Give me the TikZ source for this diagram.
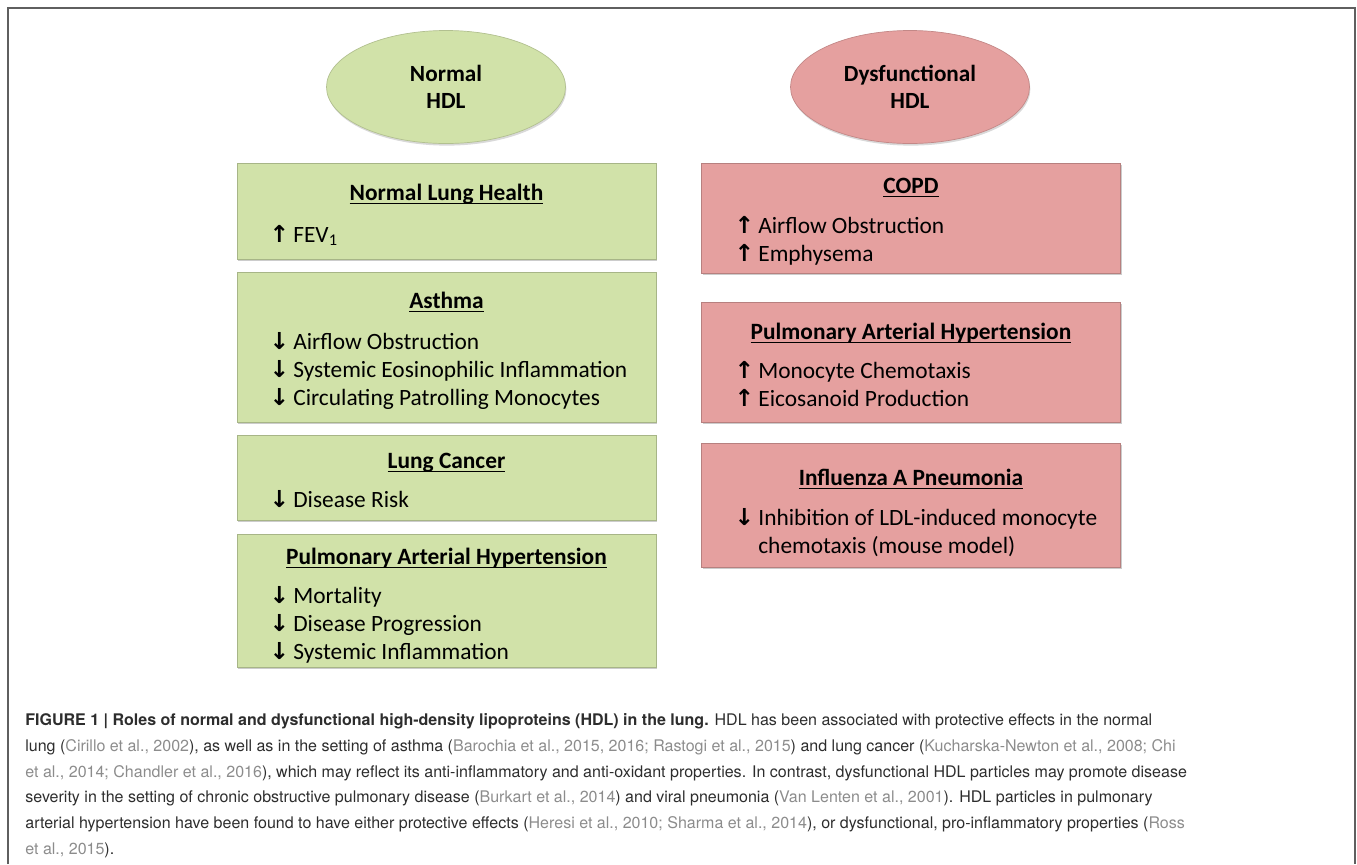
\documentclass[tikz,border=0pt]{standalone}
\usepackage{fontspec}
\setmainfont{Carlito}
\newfontfamily\arrowfont{DejaVu Sans}
\newfontfamily\capfont{TeX Gyre Heros}
\usetikzlibrary{shapes.geometric,shadows}

\definecolor{hdlgreen}{RGB}{209,226,169}
\definecolor{hdlpink}{RGB}{229,160,159}
\definecolor{captext}{RGB}{45,45,45}
\definecolor{citegray}{RGB}{140,140,140}
\definecolor{framegray}{RGB}{95,95,95}

\newcommand{\arup}{\makebox[0.4cm]{\arrowfont\bfseries ↑}\hspace{0.08cm}}
\newcommand{\ardn}{\makebox[0.4cm]{\arrowfont\bfseries ↓}\hspace{0.08cm}}
\newcommand{\ultitle}[1]{\setbox0=\hbox{#1}\rlap{\rule[-2.4pt]{\wd0}{0.75pt}}\box0}
\newcommand{\refc}[1]{\textcolor{citegray}{#1}}

\tikzset{
    hdl/.style={ellipse, minimum width=4.78cm, minimum height=2.26cm, align=center,
        font=\fontsize{13.2}{15.4}\selectfont\bfseries,
        drop shadow={opacity=0.3, shadow xshift=0.5pt, shadow yshift=-1.2pt}},
    panel/.style={rectangle, minimum width=8.38cm, line width=0.3pt,
        drop shadow={opacity=0.4, shadow xshift=0.8pt, shadow yshift=-1.2pt}},
    greenpanel/.style={panel, fill=hdlgreen, draw=hdlgreen!80!black},
    pinkpanel/.style={panel, fill=hdlpink, draw=hdlpink!80!black},
    paneltitle/.style={anchor=base, inner sep=0pt, font=\fontsize{13.3}{16}\selectfont\bfseries},
    % multi-line: base anchor sits on the last line
    effects/.style={anchor=base west, inner sep=0pt, align=left, font=\fontsize{13.3}{15.8}\selectfont},
    capline/.style={anchor=base west, inner sep=0pt, text=captext, font=\capfont\fontsize{9.12}{10}\selectfont}
}

\begin{document}
\begin{tikzpicture}

    \useasboundingbox (0, 0) rectangle (27.14, -17.28);
    \draw[framegray, line width=0.8pt] (0.16, -17.28) -- (0.16, -0.16) -- (27.1, -0.16) -- (27.1, -17.28);

    % normal HDL
    \node[hdl, fill=hdlgreen, draw=hdlgreen!85!black] (normal) at (8.92, -1.74) {Normal\\HDL};

    \node[greenpanel, minimum height=1.92cm] (lunghealth) at (8.93, -4.22) {};
    \node[paneltitle] (lunghealthT) at (8.93, -4.00) {\ultitle{Normal Lung Health}};
    \node[effects] (lunghealthE) at (5.38, -4.84) {\arup FEV\textsubscript{1}};

    \node[greenpanel, minimum height=3.0cm] (asthma) at (8.93, -6.94) {};
    \node[paneltitle] (asthmaT) at (8.93, -6.16) {\ultitle{Asthma}};
    \node[effects] (asthmaE) at (5.38, -8.10) {\ardn Airflow Obstruction\\ \ardn Systemic Eosinophilic Inflammation\\ \ardn Circulating Patrolling Monocytes};

    \node[greenpanel, minimum height=1.70cm] (cancer) at (8.93, -9.55) {};
    \node[paneltitle] (cancerT) at (8.93, -9.36) {\ultitle{Lung Cancer}};
    \node[effects] (cancerE) at (5.38, -10.14) {\ardn Disease Risk};

    \node[greenpanel, minimum height=2.66cm] (pahgood) at (8.93, -12.015) {};
    \node[paneltitle] (pahgoodT) at (8.93, -11.28) {\ultitle{Pulmonary Arterial Hypertension}};
    \node[effects] (pahgoodE) at (5.38, -13.18) {\ardn Mortality\\ \ardn Disease Progression\\ \ardn Systemic Inflammation};

    % dysfunctional HDL
    \node[hdl, fill=hdlpink, draw=hdlpink!85!black] (dysf) at (18.2, -1.74) {Dysfunctional\\HDL};

    \node[pinkpanel, minimum height=2.2cm] (copd) at (18.22, -4.36) {};
    \node[paneltitle] (copdT) at (18.22, -3.86) {\ultitle{COPD}};
    \node[effects] (copdE) at (14.68, -5.22) {\arup Airflow Obstruction\\ \arup Emphysema};

    \node[pinkpanel, minimum height=2.4cm] (pahbad) at (18.22, -7.24) {};
    \node[paneltitle] (pahbadT) at (18.22, -6.78) {\ultitle{Pulmonary Arterial Hypertension}};
    \node[effects] (pahbadE) at (14.68, -8.12) {\arup Monocyte Chemotaxis\\ \arup Eicosanoid Production};

    \node[pinkpanel, minimum height=2.48cm] (flu) at (18.22, -10.10) {};
    \node[paneltitle] (fluT) at (18.22, -9.70) {\ultitle{Influenza A Pneumonia}};
    \node[effects] (fluE) at (14.68, -11.06) {\ardn Inhibition of LDL-induced monocyte\\ \hspace*{0.48cm}chemotaxis (mouse model)};

    % caption
    \node[capline] (cap1) at (0.5, -14.50) {\textbf{FIGURE 1 | Roles of normal and dysfunctional high-density lipoproteins (HDL) in the lung.} HDL has been associated with protective effects in the normal};
    \node[capline] (cap2) at (0.5, -15.02) {lung (\refc{Cirillo et al., 2002}), as well as in the setting of asthma (\refc{Barochia et al., 2015, 2016; Rastogi et al., 2015}) and lung cancer (\refc{Kucharska-Newton et al., 2008; Chi}};
    \node[capline] (cap3) at (0.5, -15.54) {\refc{et al., 2014; Chandler et al., 2016}), which may reflect its anti-inflammatory and anti-oxidant properties. In contrast, dysfunctional HDL particles may promote disease};
    \node[capline] (cap4) at (0.5, -16.04) {severity in the setting of chronic obstructive pulmonary disease (\refc{Burkart et al., 2014}) and viral pneumonia (\refc{Van Lenten et al., 2001}). HDL particles in pulmonary};
    \node[capline] (cap5) at (0.5, -16.56) {arterial hypertension have been found to have either protective effects (\refc{Heresi et al., 2010; Sharma et al., 2014}), or dysfunctional, pro-inflammatory properties (\refc{Ross}};
    \node[capline] (cap6) at (0.5, -17.08) {\refc{et al., 2015}).};

\end{tikzpicture}
\end{document}
